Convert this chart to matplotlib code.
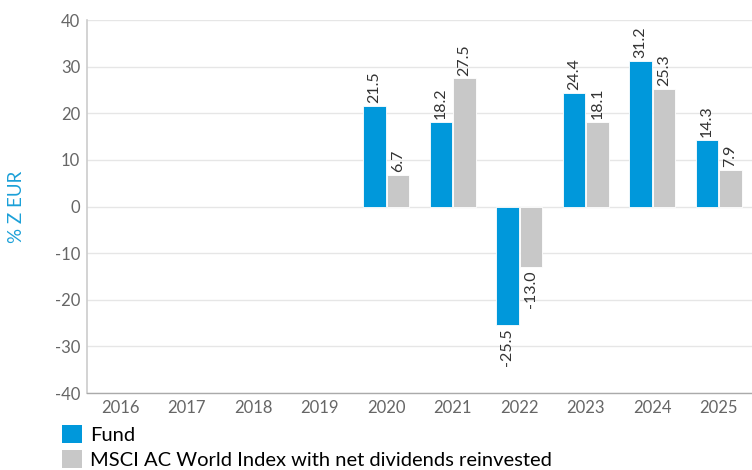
import numpy as np
import matplotlib
matplotlib.use("Agg")
from matplotlib import pyplot as plt
from matplotlib.patches import Patch

years = ["2016", "2017", "2018", "2019", "2020", "2021", "2022", "2023", "2024", "2025"]
fund = [np.nan, np.nan, np.nan, np.nan, 21.5, 18.2, -25.5, 24.4, 31.2, 14.3]
index = [np.nan, np.nan, np.nan, np.nan, 6.7, 27.5, -13.0, 18.1, 25.3, 7.9]
series_names = ["Fund", "MSCI AC World Index with net dividends reinvested"]
fund_color = "#0098DB"
index_color = "#C8C8C8"

plt.rcParams["font.family"] = ["Lato", "DejaVu Sans"]
plt.rcParams["axes.unicode_minus"] = False

fig = plt.figure(figsize=(7.52, 4.70), dpi=100)
ax = fig.add_axes([87 / 752, 1 - 393 / 470, 1 - 87 / 752, (393 - 20) / 470])

x = np.arange(len(years))
w = 0.335
b1 = ax.bar(x - w / 2 - 0.01, fund, w, color=fund_color, edgecolor="white", linewidth=0.6, zorder=3)
b2 = ax.bar(x + w / 2 + 0.01, index, w, color=index_color, edgecolor="white", linewidth=0.6, zorder=3)

for bars, vals in ((b1, fund), (b2, index)):
    for rect, v in zip(bars, vals):
        if np.isnan(v):
            continue
        cx = rect.get_x() + rect.get_width() / 2
        if v >= 0:
            ax.annotate(f"{v:.1f}", (cx, v), xytext=(0, 2), textcoords="offset points",
                        rotation=90, ha="center", va="bottom", fontsize=11.5, color="#333333")
        else:
            ax.annotate(f"{v:.1f}", (cx, v), xytext=(0, -2), textcoords="offset points",
                        rotation=90, ha="center", va="top", fontsize=11.5, color="#333333")

ax.set_xlim(-0.5, len(years) - 0.5)
ax.set_ylim(-40, 40)
ax.set_yticks(range(-40, 41, 10))
ax.set_xticks(x)
ax.set_xticklabels(years)
ax.tick_params(length=0, labelsize=12, colors="#666666", pad=5)
ax.grid(axis="y", color="#e6e6e6", linewidth=1, zorder=0)
for s in ("top", "right"):
    ax.spines[s].set_visible(False)
ax.spines["left"].set_color("#cccccc")
ax.spines["bottom"].set_color("#aaaaaa")
ax.spines["left"].set_linewidth(1.2)
ax.spines["bottom"].set_linewidth(1)

fig.text(16 / 752, 1 - 207 / 470, "% Z EUR", rotation=90, ha="center", va="center",
         fontsize=13.5, color="#1BA0D8")

handles = [Patch(facecolor=fund_color), Patch(facecolor=index_color)]
fig.legend(handles, series_names, loc="upper left", bbox_to_anchor=(62 / 752, 1 - 425 / 470),
           frameon=False, fontsize=14.5, handlelength=1.0, handleheight=1.0,
           handletextpad=0.4, labelspacing=0.3, borderaxespad=0, borderpad=0)

fig.savefig("out.png", dpi=100)
